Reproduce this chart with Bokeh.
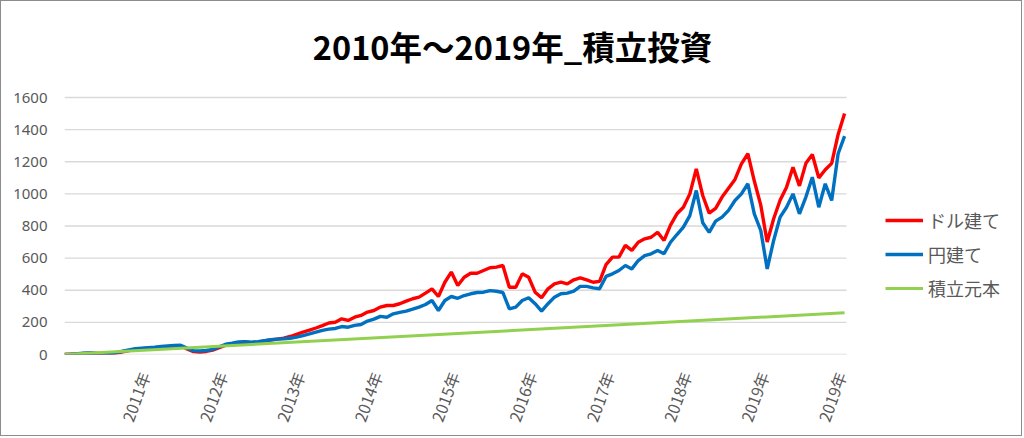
import math
from bokeh.plotting import figure
from bokeh.models import Range1d, FixedTicker, Legend, LegendItem, Label
from bokeh.embed import file_html
from bokeh.resources import INLINE

title_text = "2010年～2019年_積立投資"
series_names = ["ドル建て", "円建て", "積立元本"]
tick_labels = ["2011年", "2012年", "2013年", "2014年", "2015年",
               "2016年", "2017年", "2018年", "2019年", "2019年"]

months = list(range(122))

dollar = [0, 2, 4, 7, 8, 6, 4, 3, 9, 16, 24, 32, 36, 39, 42, 46, 49, 52, 54, 34,
          18, 16, 19, 27, 42, 58, 64, 72, 76, 73, 77, 84, 90, 96, 102, 112, 125, 140, 152, 165,
          180, 196, 201, 222, 212, 232, 243, 264, 274, 295, 305, 305, 316, 332, 347, 357, 382, 409, 361, 450,
          513, 430, 481, 506, 506, 523, 540, 544, 554, 419, 419, 502, 481, 388, 353, 409, 440, 450, 440, 465,
          477, 465, 450, 455, 560, 606, 606, 679, 648, 699, 720, 730, 761, 710, 805, 876, 917, 1000, 1156, 990,
          880, 910, 980, 1035, 1090, 1187, 1250, 1080, 930, 700, 845, 960, 1042, 1166, 1050, 1190, 1245, 1100, 1150, 1190,
          1370, 1500]

yen = [0, 2, 5, 8, 9, 7, 5, 6, 12, 20, 28, 36, 40, 43, 46, 50, 53, 56, 58, 40,
       24, 22, 25, 32, 48, 64, 70, 78, 80, 77, 80, 86, 92, 96, 98, 101, 108, 118, 128, 139,
       150, 158, 162, 174, 170, 181, 187, 208, 220, 237, 232, 253, 262, 270, 282, 295, 311, 336, 274, 336,
       361, 350, 367, 378, 386, 388, 398, 394, 386, 284, 295, 336, 353, 316, 270, 316, 357, 378, 382, 395,
       424, 424, 415, 409, 486, 502, 523, 554, 533, 585, 616, 627, 648, 627, 699, 747, 793, 865, 1021, 820,
       760, 830, 855, 897, 959, 1000, 1063, 876, 772, 533, 710, 855, 917, 1000, 876, 980, 1104, 917, 1063, 959,
       1250, 1360]

principal_months = [0, 121]
principal = [0, 260]

y_ticks = [0, 200, 400, 600, 800, 1000, 1200, 1400, 1600]
y_max = 1600

# layout (canvas pixels)
W, H = 1022, 436
left, bottom_px = 63, 353
grid_top = 96             # pixel row of the top gridline (1600)
frame_top = 8             # frame extended upward so the title can sit inside it
data_right = 845          # where the plotted data / gridlines end
frame_right = 1016        # frame extended so the legend can sit inside it
x_data_end = 121.3
x_end = x_data_end * (frame_right - left) / (data_right - left)
px_per_unit = (bottom_px - grid_top) / y_max
y_end = y_max + (grid_top - frame_top) / px_per_unit

p = figure(width=W, height=H, output_backend="svg", toolbar_location=None,
           x_range=Range1d(0, x_end), y_range=Range1d(0, y_end),
           min_border_left=left, min_border_right=W - frame_right,
           min_border_top=frame_top, min_border_bottom=H - bottom_px)
p.styles = {"border": "1px solid #8c8c8c"}
p.outline_line_color = None
p.background_fill_color = "white"
p.border_fill_color = "white"

# title (as a label centred on the chart)
title_cx, title_cy = 511, 44
p.add_layout(Label(x=(title_cx - left) * x_end / (frame_right - left),
                   y=y_max + (grid_top - title_cy) / px_per_unit,
                   text=title_text, text_align="center", text_baseline="middle",
                   text_font="Noto Sans CJK JP", text_font_size="32.5px",
                   text_font_style="bold", text_color="black"))

# horizontal gridlines limited to the data area
p.xgrid.visible = False
p.ygrid.visible = False
p.segment(x0=[0] * len(y_ticks), x1=[x_data_end] * len(y_ticks), y0=y_ticks, y1=y_ticks,
          line_color="#d9d9d9", line_width=1.3)

r1 = p.line(months, dollar, line_color="#ff0000", line_width=3.4)
r2 = p.line(months, yen, line_color="#0070c0", line_width=3.4)
r3 = p.line(principal_months, principal, line_color="#92d050", line_width=3)

ya = p.yaxis[0]
ya.ticker = FixedTicker(ticks=y_ticks)
ya.axis_line_color = None
ya.major_tick_line_color = None
ya.minor_tick_line_color = None
ya.major_label_standoff = 11
ya.major_label_text_color = "#595959"
ya.major_label_text_font = "Noto Sans"
ya.major_label_text_font_size = "15px"

xa = p.xaxis[0]
x_ticks = [12 * (i + 1) + 0.4 for i in range(len(tick_labels))]
xa.ticker = FixedTicker(ticks=x_ticks)
xa.major_label_overrides = {t: lab for t, lab in zip(x_ticks, tick_labels)}
xa.major_label_orientation = math.radians(70)
xa.axis_line_color = None
xa.major_tick_line_color = None
xa.minor_tick_line_color = None
xa.major_label_standoff = 12
xa.major_label_text_color = "#595959"
xa.major_label_text_font = "Noto Sans CJK JP"
xa.major_label_text_font_size = "16px"

legend = Legend(items=[LegendItem(label=series_names[0], renderers=[r1]),
                       LegendItem(label=series_names[1], renderers=[r2]),
                       LegendItem(label=series_names[2], renderers=[r3])],
                location=(885 - left - 1, 353 - 300))
legend.border_line_color = None
legend.background_fill_alpha = 0
legend.padding = 0
legend.margin = 0
legend.spacing = 8
legend.glyph_width = 38
legend.glyph_height = 20
legend.label_height = 20
legend.label_standoff = 5
legend.label_text_font = "Noto Sans CJK JP"
legend.label_text_font_size = "18px"
legend.label_text_color = "#595959"
p.add_layout(legend, "center")

open("out.html", "w").write(file_html(p, INLINE))
